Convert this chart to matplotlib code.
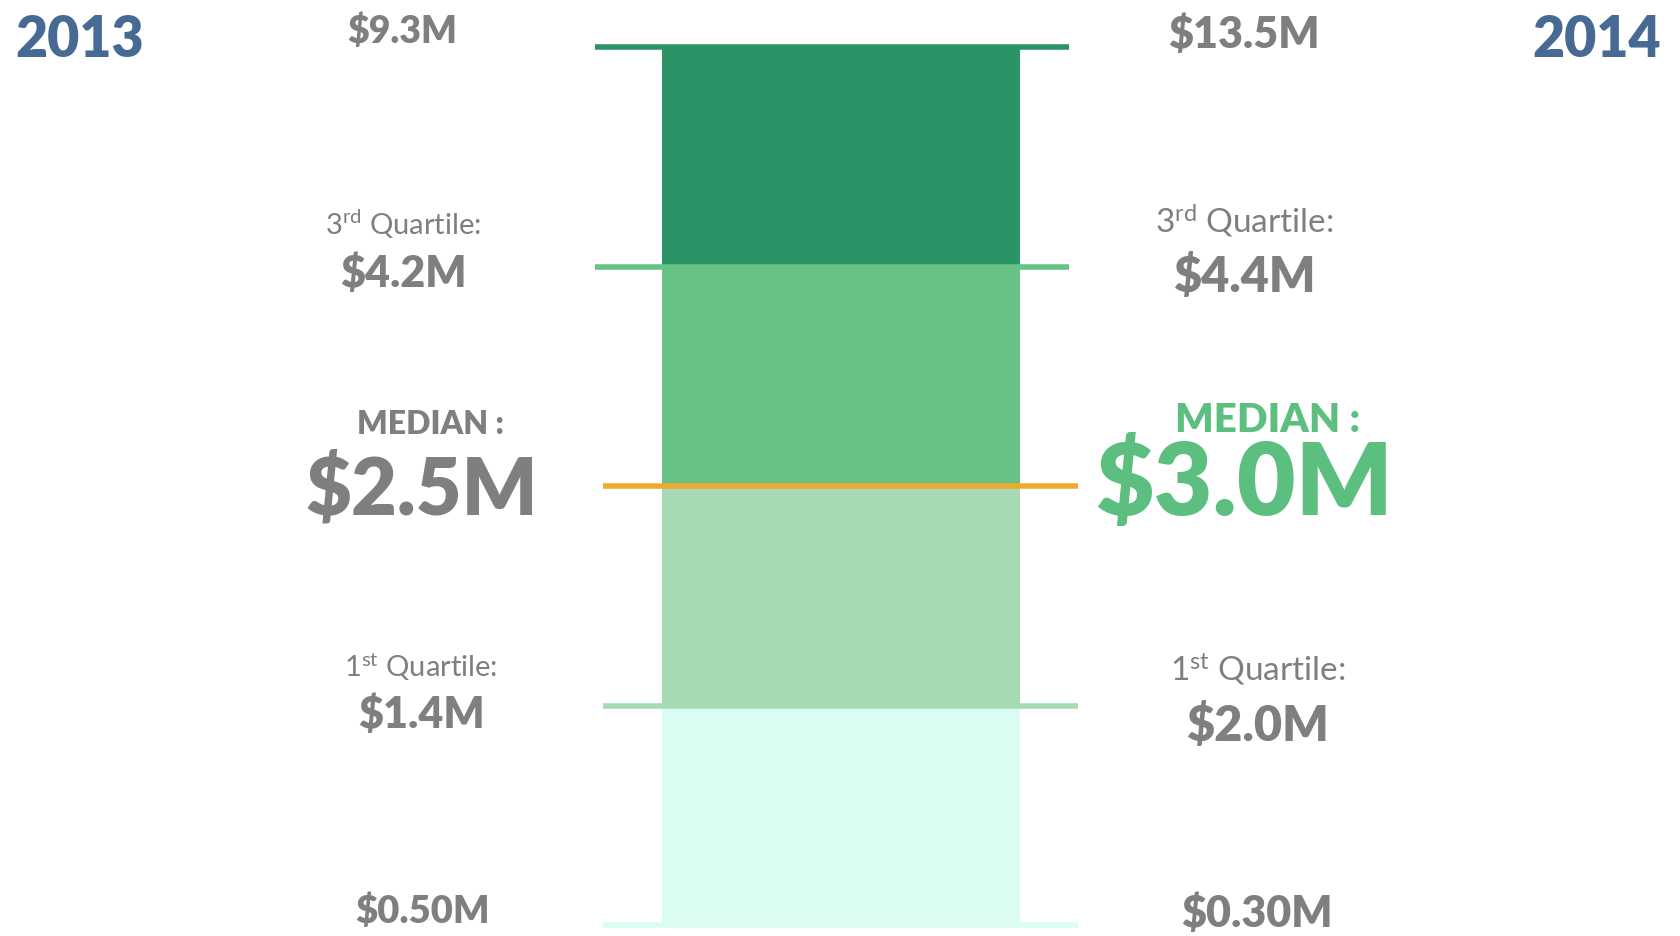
import matplotlib
matplotlib.use("Agg")
import matplotlib.pyplot as plt
import numpy as np

# ---- data ----
years = ["2013", "2014"]
q_min = [0.50, 0.30]
q1 = [1.4, 2.0]
median = [2.5, 3.0]
q3 = [4.2, 4.4]
q_max = [9.3, 13.5]
# share of observations in each quartile band (bottom -> top)
band_share = [25, 25, 25, 25]
band_colors = ["#DAFCF1", "#A5DAB5", "#66C285", "#2B9467"]
line_colors = ["#DAFCF1", "#A5DAB5", "#EFA92F", "#66C285", "#2B9467"]

W, H = 1681, 937
plt.rcParams["font.family"] = ["Lato", "DejaVu Sans"]
plt.rcParams["mathtext.fontset"] = "custom"
plt.rcParams["mathtext.rm"] = "Lato"
plt.rcParams["mathtext.it"] = "Lato"
plt.rcParams["mathtext.bf"] = "Lato:bold"

fig = plt.figure(figsize=(W / 100, H / 100), dpi=100)
fig.patch.set_facecolor("white")

# bar axes (pixel box 590..1090 x, 48..926 y)
ax = fig.add_axes([590 / W, (H - 926) / H, 500 / W, (926 - 48) / H])
ax.set_xlim(0, 1)
ax.set_ylim(0, sum(band_share))
ax.axis("off")

bottoms = np.concatenate([[0], np.cumsum(band_share)[:-1]])
ax.bar([0.503] * 4, band_share, width=0.716, bottom=bottoms,
       color=band_colors, edgecolor="none", zorder=1)

levels = np.concatenate([[0], np.cumsum(band_share)])
spans = [(0.027, 0.977), (0.027, 0.977), (0.027, 0.977), (0.01, 0.958), (0.01, 0.958)]
for lev, col, (a, b) in zip(levels, line_colors, spans):
    ax.plot([a, b], [lev, lev], color=col, lw=4.0, solid_capstyle="butt",
            zorder=3, clip_on=False)

GRAY = "#7F7F7F"
GREEN = "#5DBF7F"
BLUE = "#466A93"


def T(x, y, s, size, color=GRAY, weight="heavy"):
    fig.text(x / W, 1 - y / H, s, fontsize=size, color=color, weight=weight,
             ha="center", va="center")


# year headers
T(80, 40, years[0], 40, BLUE)
T(1597, 40, years[1], 40, BLUE)

# 2013 (left)
T(402, 31, f"${q_max[0]:.1f}M", 27)
T(403, 224, r"3$^{\mathrm{rd}}$ Quartile:", 21, weight="normal")
T(403, 274, f"${q3[0]:.1f}M", 31)
T(430, 425, "MEDIAN :", 23)
T(422, 490, f"${median[0]:.1f}M", 57)
T(421, 667, r"1$^{\mathrm{st}}$ Quartile:", 21, weight="normal")
T(421, 715, f"${q1[0]:.1f}M", 31)
T(423, 911, f"${q_min[0]:.2f}M", 27.5)

# 2014 (right)
T(1244, 35, f"${q_max[1]:.1f}M", 31)
T(1244, 221, r"3$^{\mathrm{rd}}$ Quartile:", 24, weight="normal")
T(1244, 277, f"${q3[1]:.1f}M", 35)
T(1268, 420, "MEDIAN :", 29, color=GREEN)
T(1244, 485, f"${median[1]:.1f}M", 73, color=GREEN)
T(1258, 669, r"1$^{\mathrm{st}}$ Quartile:", 24, weight="normal")
T(1257, 726, f"${q1[1]:.1f}M", 35)
T(1257, 914, f"${q_min[1]:.2f}M", 31)

fig.savefig("out.png", dpi=100, facecolor="white")
